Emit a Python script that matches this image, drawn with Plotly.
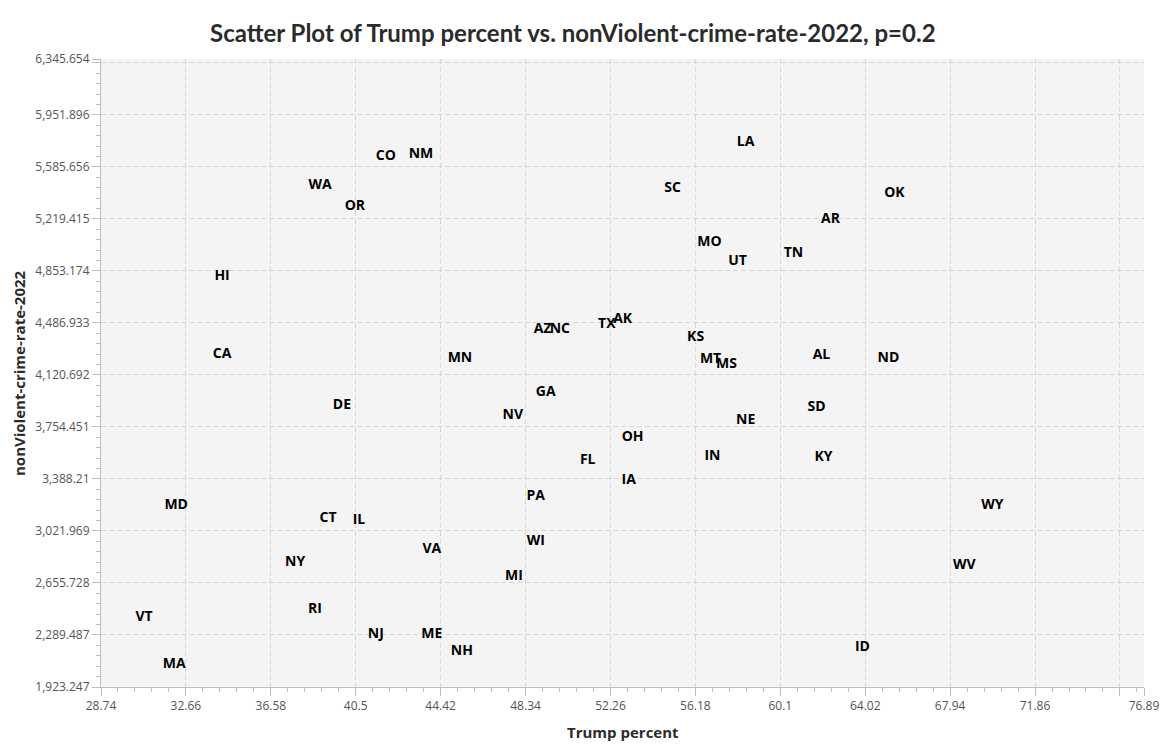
import plotly.graph_objects as go

states = ["LA","CO","NM","WA","OR","SC","OK","AR","MO","TN","UT","HI","AK","TX","AZ","NC",
          "KS","CA","AL","MN","ND","MT","MS","GA","DE","SD","NV","NE","OH","IN","KY","FL",
          "IA","PA","MD","WY","CT","IL","WI","VA","NY","WV","MI","RI","VT","NJ","ME","ID",
          "NH","MA"]
trump_pct = [58.50,41.89,43.51,38.85,40.46,55.13,65.37,62.42,56.83,60.71,58.13,34.33,52.82,52.09,49.13,49.92,
             56.19,34.33,62.00,45.31,65.09,56.88,57.62,49.27,39.86,61.77,47.75,58.50,53.28,56.97,62.09,51.21,
             53.10,48.81,32.21,69.89,39.22,40.65,48.81,44.01,37.70,68.59,47.80,38.62,30.73,41.43,44.01,63.89,
             45.40,32.12]
crime_rate = [5755.8,5657.0,5671.0,5452.8,5304.8,5431.6,5396.4,5213.1,5051.0,4973.4,4917.0,4811.3,4508.2,4472.9,4437.7,4437.7,
              4381.3,4261.4,4254.4,4233.3,4233.3,4226.3,4191.0,4000.6,3909.0,3894.9,3838.5,3803.3,3683.4,3549.5,3542.5,3521.3,
              3380.3,3267.5,3204.1,3204.1,3112.5,3098.4,2950.4,2894.0,2802.3,2781.2,2703.7,2471.0,2414.7,2294.8,2294.8,2203.2,
              2175.0,2083.4]

x_tickvals = [28.74,32.66,36.58,40.5,44.42,48.34,52.26,56.18,60.1,64.02,67.94,71.86,75.78,76.89]
x_ticktext = ["28.74","32.66","36.58","40.5","44.42","48.34","52.26","56.18","60.1","64.02","67.94","71.86","","76.89"]
y_tickvals = [1923.247,2289.487,2655.728,3021.969,3388.21,3754.451,4120.692,4486.933,4853.174,5219.415,5585.656,5951.896,6318.138,6345.654]
y_ticktext = ["1,923.247","2,289.487","2,655.728","3,021.969","3,388.21","3,754.451","4,120.692","4,486.933",
              "4,853.174","5,219.415","5,585.656","5,951.896","","6,345.654"]

x_range = [28.74, 76.89]
y_range = [1923.247, 6345.654]

fig = go.Figure()
fig.add_trace(go.Scatter(
    x=trump_pct, y=crime_rate, text=states, mode="text",
    textposition="middle center",
    textfont=dict(family="Open Sans", size=14, color="#000000", weight="bold"),
    hoverinfo="text+x+y", showlegend=False,
))

axis_common = dict(
    showline=True, linecolor="#bdbdbd", linewidth=1, mirror=False,
    showgrid=True, gridcolor="#d6d6d6", griddash="5px,3px", gridwidth=1,
    zeroline=False, ticks="outside", tickcolor="#bdbdbd", tickwidth=1,
    tickfont=dict(family="Open Sans", size=12, color="#555555"),
    tickmode="array",
)

fig.update_xaxes(**axis_common, range=x_range, tickvals=x_tickvals, ticktext=x_ticktext, ticklen=8,
                 minor=dict(tickmode="linear", tick0=28.74, dtick=0.784, ticklen=4, tickcolor="#bdbdbd",
                            ticks="outside", showgrid=False))
fig.update_yaxes(**axis_common, range=y_range, tickvals=y_tickvals, ticktext=y_ticktext, ticklen=8,
                 minor=dict(tickmode="linear", tick0=1923.247, dtick=73.2482, ticklen=4, tickcolor="#bdbdbd",
                            ticks="outside", showgrid=False))

# page body has an 8px default margin, so the figure is drawn 8px in from the top-left
fig.update_layout(
    width=1165, height=744,
    margin=dict(l=93, r=29, t=51, b=65, autoexpand=False),
    paper_bgcolor="#ffffff", plot_bgcolor="#f4f4f4",
    annotations=[
        dict(text="<b>Scatter Plot of Trump percent vs. nonViolent-crime-rate-2022, p=0.2</b>",
             xref="paper", yref="paper", x=(573-101)/(1144-101), y=1, yshift=27, xanchor="center", yanchor="middle",
             showarrow=False, font=dict(family="Lato", size=24, color="#2b2b2b")),
        dict(text="<b>Trump percent</b>", xref="paper", yref="paper", x=0.5, y=0, yshift=-45,
             xanchor="center", yanchor="middle", showarrow=False,
             font=dict(family="Open Sans", size=15, color="#2b2b2b")),
        dict(text="<b>nonViolent-crime-rate-2022</b>", xref="paper", yref="paper", x=0, xshift=-82, y=0.5,
             xanchor="center", yanchor="middle", textangle=-90, showarrow=False,
             font=dict(family="Open Sans", size=15, color="#2b2b2b")),
    ],
)

fig.write_html("out.html")
